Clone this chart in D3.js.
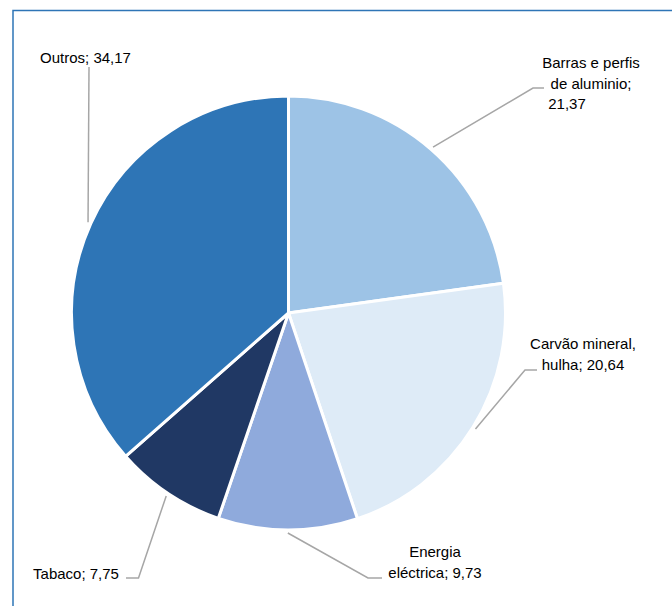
<!DOCTYPE html>
<html>
<head>
<meta charset="utf-8">
<script src="https://cdn.jsdelivr.net/npm/d3@7"></script>
<style>
  html, body { margin: 0; padding: 0; background: #fff; }
  svg { display: block; }
  text { font-family: "Liberation Sans", Arial, sans-serif; font-size: 15px; fill: #000; }
</style>
</head>
<body>
<svg id="chart" width="672" height="606"></svg>
<script>
// ---- data ----
const categories = ["Barras e perfis de aluminio", "Carvão mineral, hulha", "Energia eléctrica", "Tabaco", "Outros"];
const values = [21.37, 20.64, 9.73, 7.75, 34.17];
const colors = ["#9DC3E6", "#DEEBF7", "#8FAADC", "#203864", "#2E75B6"];
const labelLines = [
  ["Barras e perfis", "de aluminio;", "21,37"],
  ["Carvão mineral,", "hulha; 20,64"],
  ["Energia", "eléctrica; 9,73"],
  ["Tabaco; 7,75"],
  ["Outros; 34,17"]
];
// label layout (text centre x, first baseline y, per-line x shift, leader elbow & end)
const labelLayout = [
  { x: 591, y: 68, shifts: [0, 0, -24], elbow: [533, 88], end: [544, 88] },
  { x: 583, y: 349, shifts: [0, 0], elbow: [525, 370], end: [537, 370] },
  { x: 435, y: 557, shifts: [0, 0], elbow: [368, 578], end: [382, 578] },
  { x: 76, y: 579, shifts: [0], elbow: [138.5, 578], end: [126, 578] },
  { x: 85.5, y: 63, shifts: [0], elbow: [89, 67], end: [89, 67] }
];

const svg = d3.select("#chart");
const cx = 288.5, cy = 313, R = 217, lineH = 20.7;

// frame
svg.append("rect")
  .attr("x", 13).attr("y", 10.5)
  .attr("width", 720).attr("height", 720)
  .attr("fill", "none")
  .attr("stroke", "#2E75B6")
  .attr("stroke-width", 1.5);

const pie = d3.pie().sort(null).value(d => d.value).startAngle(0).endAngle(2 * Math.PI);
const data = categories.map((c, i) => ({ name: c, value: values[i], color: colors[i], lines: labelLines[i], layout: labelLayout[i] }));
const arcs = pie(data);
const arc = d3.arc().innerRadius(0).outerRadius(R);

const g = svg.append("g").attr("transform", `translate(${cx},${cy})`);
g.selectAll("path.slice")
  .data(arcs)
  .join("path")
  .attr("class", "slice")
  .attr("d", arc)
  .attr("fill", d => d.data.color)
  .attr("stroke", "#fff")
  .attr("stroke-width", 3)
  .attr("stroke-linejoin", "round");

// leader lines from each slice's mid-angle on the rim
const leaderR = R + 3;
svg.selectAll("polyline.leader")
  .data(arcs)
  .join("polyline")
  .attr("class", "leader")
  .attr("points", d => {
    const L = d.data.layout;
    const a = (d.startAngle + d.endAngle) / 2;
    const sx = cx + leaderR * Math.sin(a), sy = cy - leaderR * Math.cos(a);
    return [[sx, sy], L.elbow, L.end].map(p => p.join(",")).join(" ");
  })
  .attr("fill", "none")
  .attr("stroke", "#A6A6A6")
  .attr("stroke-width", 1.5);

// labels
const lbl = svg.selectAll("text.lbl")
  .data(arcs)
  .join("text")
  .attr("class", "lbl")
  .attr("text-anchor", "middle");
lbl.selectAll("tspan")
  .data(d => d.data.lines.map((t, i) => ({ t, i, L: d.data.layout })))
  .join("tspan")
  .attr("x", d => d.L.x + d.L.shifts[d.i])
  .attr("y", d => d.L.y + d.i * lineH)
  .text(d => d.t);
</script>
</body>
</html>
